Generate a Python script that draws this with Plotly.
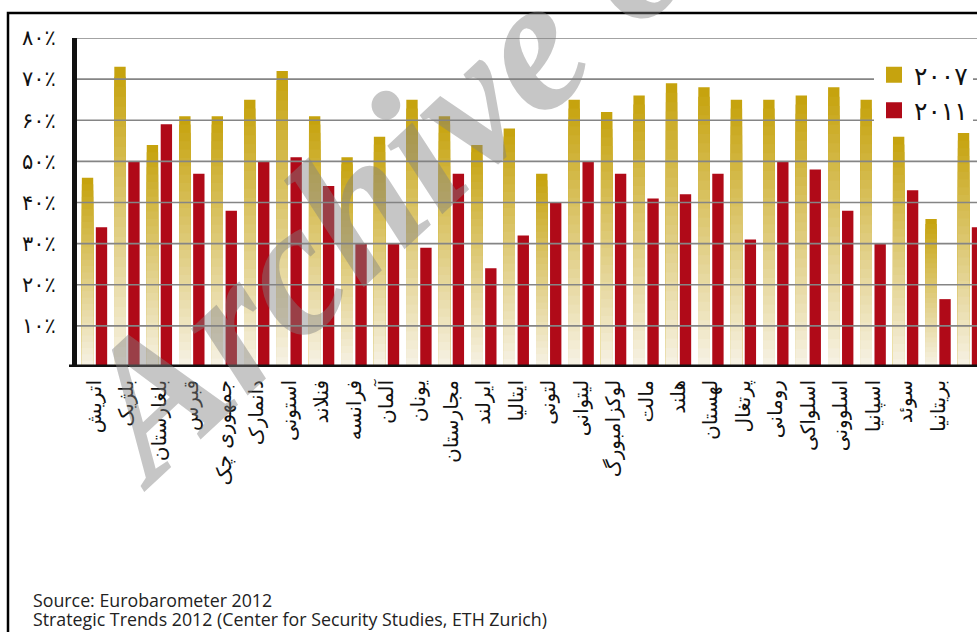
import plotly.graph_objects as go

countries = ["اتریش", "بلژیک", "بلغارستان", "قبرس", "جمهوری چک", "دانمارک", "استونی",
             "فنلاند", "فرانسه", "آلمان", "یونان", "مجارستان", "ایرلند", "ایتالیا",
             "لتونی", "لیتوانی", "لوکزامبورگ", "مالت", "هلند", "لهستان", "پرتغال",
             "رومانی", "اسلواکی", "اسلوونی", "اسپانیا", "سوئد", "بریتانیا", "اتحادیه اروپا"]
y2007 = [46, 73, 54, 61, 61, 65, 72, 61, 51, 56, 65, 61, 54, 58, 47, 65, 62, 66, 69, 68,
         65, 65, 66, 68, 65, 56, 36, 57]
y2011 = [34, 50, 59, 47, 38, 50, 51, 44, 30, 30, 29, 47, 24, 32, 40, 50, 47, 41, 42, 47,
         31, 50, 48, 38, 30, 43, 16.5, 34]
series_names = ["۲۰۰۷", "۲۰۱۱"]
y_ticks = [10, 20, 30, 40, 50, 60, 70, 80]
y_ticktext = ["۱۰٪", "۲۰٪", "۳۰٪", "۴۰٪", "۵۰٪", "۶۰٪", "۷۰٪", "۸۰٪"]

GOLD_TOP = (198, 163, 14)
GOLD_BOTTOM = (246, 241, 226)
RED = "#B00A18"
N_STEPS = 30

xs = list(range(len(countries)))
fig = go.Figure()

# gold bars with vertical gradient: overlapping bars, each shorter one lighter
for k in range(N_STEPS):
    frac = (N_STEPS - k) / N_STEPS
    t = (k) / (N_STEPS - 1)
    col = tuple(round(GOLD_TOP[i] + (GOLD_BOTTOM[i] - GOLD_TOP[i]) * t) for i in range(3))
    fig.add_trace(go.Bar(
        x=xs, y=[v * frac for v in y2007], base=0,
        offset=-0.39, width=0.35,
        marker=dict(color="rgb(%d,%d,%d)" % col, line=dict(width=0)),
        showlegend=False, hoverinfo="skip"))

fig.add_trace(go.Bar(
    x=xs, y=y2011, offset=0.04, width=0.35,
    marker=dict(color=RED, line=dict(width=0)),
    showlegend=False, name=series_names[1]))

# legend entries
fig.add_trace(go.Scatter(x=[0], y=[None], mode="markers", name=series_names[0],
                         marker=dict(symbol="square", size=18,
                                     color="rgb(%d,%d,%d)" % GOLD_TOP)))
fig.add_trace(go.Scatter(x=[0], y=[None], mode="markers", name=series_names[1],
                         marker=dict(symbol="square", size=18, color=RED)))

L, R, T, B = 77, 0, 38, 265
W, H = 977, 632
pw, ph = W - L - R, H - T - B


def px(xp):
    return (xp - L) / pw


def py(yp):
    return (H - B - yp) / ph


shapes = []
for v in y_ticks:
    shapes.append(dict(type="line", xref="paper", yref="y", x0=0, x1=1, y0=v, y1=v,
                       line=dict(color="#858585", width=1.6), layer="above"))
shapes.append(dict(type="line", xref="paper", yref="y", x0=px(69), x1=1.02, y0=0, y1=0,
                   line=dict(color="#111111", width=5), layer="above"))
shapes.append(dict(type="rect", xref="paper", yref="paper", x0=px(8), x1=px(995),
                   y0=py(650), y1=py(13), line=dict(color="#000000", width=2.5),
                   layer="above"))

annotations = [
    dict(text="<b><i>Archive of SID</i></b>", xref="paper", yref="paper",
         x=px(538), y=py(36), xanchor="center", yanchor="middle", textangle=-43,
         showarrow=False,
         font=dict(family="Liberation Serif", size=191, color="rgba(128,128,128,0.45)")),
    dict(text="Source: Eurobarometer 2012", xref="paper", yref="paper",
         x=px(31), y=py(600), xanchor="left", yanchor="middle", showarrow=False,
         font=dict(family="Open Sans", size=17.8, color="#222222")),
    dict(text="Strategic Trends 2012 (Center for Security Studies, ETH Zurich)",
         xref="paper", yref="paper",
         x=px(31), y=py(619), xanchor="left", yanchor="middle", showarrow=False,
         font=dict(family="Open Sans", size=17.8, color="#222222")),
]

fig.update_layout(
    width=W, height=H,
    margin=dict(l=L, r=R, t=T, b=B),
    barmode="overlay",
    plot_bgcolor="white", paper_bgcolor="white",
    shapes=shapes, annotations=annotations,
    legend=dict(x=px(874), y=py(52), xanchor="left", yanchor="top",
                bgcolor="white", borderwidth=0,
                font=dict(family="DejaVu Sans", size=25, color="#111111")),
    xaxis=dict(range=[-0.54, 27.2], tickmode="array", tickvals=xs, ticktext=countries,
               tickangle=-90, showgrid=False, zeroline=False, showline=False,
               ticks="", ticklabelstandoff=8,
               tickfont=dict(family="DejaVu Sans", size=20, color="#111111")),
    yaxis=dict(range=[0, 80], tickmode="array", tickvals=y_ticks, ticktext=y_ticktext,
               showgrid=False, zeroline=False, showline=True, linecolor="#111111",
               linewidth=5, layer="above traces", ticks="", ticklabelstandoff=12,
               tickfont=dict(family="DejaVu Sans", size=21, color="#111111")),
)

fig.write_html("out.html")
